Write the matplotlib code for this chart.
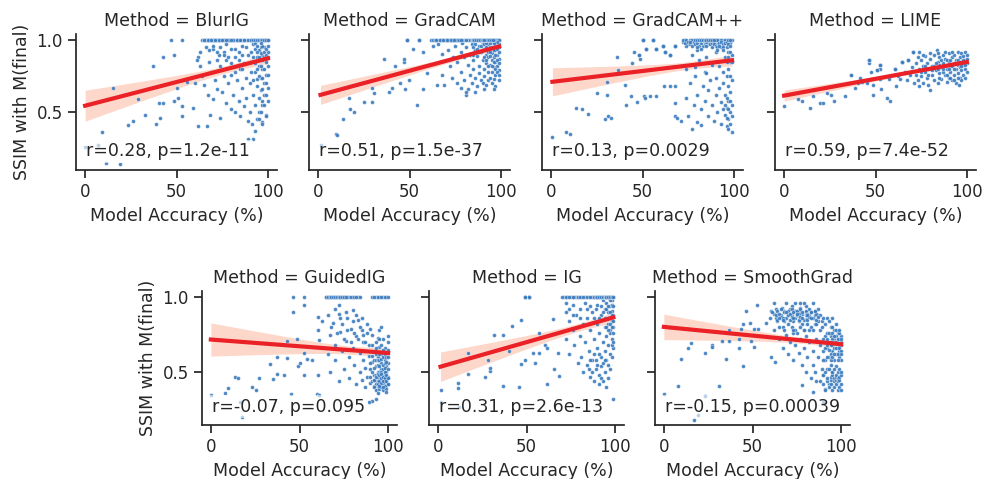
import numpy as np
import matplotlib.pyplot as plt

# (model accuracy %, SSIM), per method.
# Many points overlap (e.g. stacks at SSIM = 1.0), so some pairs repeat.
blurig_pts = [(0,0.26),(7,0.27),(9,0.36),(11.5,0.145),(15.5,0.67),(19,0.14),(23.5,0.41),(26,0.44),(29,0.59),(33,0.48),
    (37,0.82),(39,0.42),(41,0.46),(40.5,0.56),(42.7,0.56),(42.7,0.88),(46.8,1.0),(48.6,0.90),(48.6,0.58),(50,0.67),
    (51,0.60),(52.8,1.0),(52.9,0.54),(52.9,0.47),(55.6,0.71),(59,0.53),(61.5,0.40),(60,0.70),(62,0.88),(63,0.82),
    (64,0.75),(65,0.69),(66.7,0.40),(66,1.0),(67,1.0),(67,0.62),(68.5,0.48),(68,0.85),(69,0.78),(70,0.59),
    (70,1.0),(71,0.72),(72,0.66),(72,1.0),(73.7,0.46),(73,0.90),(74,1.0),(75,0.80),(75,0.64),(76,1.0),
    (77,0.56),(77,0.86),(78,1.0),(78,0.70),(79.6,0.52),(80,0.94),(80,1.0),(80,0.76),(81,0.62),(82,1.0),
    (82,0.88),(82,0.50),(83,0.72),(84,1.0),(84,0.92),(84,0.58),(85,0.47),(85,0.80),(86,1.0),(86,0.67),
    (86,0.96),(87,0.54),(87,0.84),(88,1.0),(88,0.74),(88,0.60),(89,0.90),(89,0.44),(90,0.70),(90,0.50),
    (91,1.0),(91,0.85),(91.5,0.42),(92,0.31),(92,0.62),(92,0.97),(93,1.0),(93,0.37),(93,0.78),(93,0.55),
    (94,0.88),(94,0.68),(94,0.45),(95,1.0),(95,0.93),(95,0.82),(95,0.60),(95,0.50),(96,1.0),(96,0.74),
    (96,0.65),(96,0.86),(97,1.0),(97,0.90),(97,0.80),(97,0.55),(97,0.43),(98,1.0),(98,0.95),(98,0.70),
    (98,0.62),(99,1.0),(99,0.85),(99,0.76),(99,0.48),(100,1.0),(100,0.92),(100,0.67),(100,0.58),(89,0.31),
    (93,0.98),(94,1.0),(90,1.0),(92,1.0),(87,1.0),(85,1.0),(83,1.0),(81,1.0),(79,1.0),(77,0.97),
    (96,0.95),(98,0.88),(100,0.82),(94,0.73),(97,0.66),
    (67,1.0),(68,1.0),(69,1.0),(71,1.0),(73,1.0),(75,1.0),(77,1.0),(79,1.0),(81,1.0),(83,1.0),
    (85,1.0),(87,1.0),(89,1.0),(91,1.0),(92,1.0),(93,1.0),(94,1.0),(95,1.0),(96,1.0),(97,1.0),
    (98,1.0),(99,1.0),(100,1.0),(91,0.92),(91,0.78),(92,0.88),(92,0.72),(93,0.94),(93,0.84),(94,0.96),
    (94,0.80),(95,0.88),(95,0.75),(96,0.91),(96,0.82),(97,0.96),(97,0.86),(97,0.74),(98,0.92),(98,0.80),
    (99,0.94),(99,0.90),(99,0.70),(100,0.96),(100,0.88),(100,0.76),(94,0.92),(96,0.98),(70,0.94),(72,0.86),
    (74,0.82),(76,0.92),(78,0.88),(80,0.84),(82,0.94),(84,0.86),(86,0.90),(88,0.95),(76,0.75),(82,0.78),
    (86,0.80),
    (64,1.0),(65,1.0),(66,1.0),(67,1.0),(68,1.0),(69,1.0),(70,1.0),(71,1.0),(72,1.0),(73,1.0),
    (74,1.0),(75,1.0),(76,1.0),(78,1.0),(80,1.0),(65,1.0),(67,1.0),(69,1.0),(71,1.0),(73,1.0),
    (75,1.0),(77,1.0),(66,0.95),(68,0.93),(70,0.96),(72,0.92),(74,0.95),(76,0.90),(63,0.92),(61,0.86),
    (95,0.45),(96,0.50),(97,0.42),(98,0.55),(99,0.47),(97,0.58),(99,0.62)]

gradcam_pts = [(1.3,0.27),(10,0.345),(10.5,0.34),(13.4,0.455),(17,0.60),(17.5,0.52),(19.7,0.50),(25,0.57),(29.5,0.57),(30.4,0.63),
    (29.5,0.67),(36,0.87),(39,0.64),(40.5,0.67),(41.8,0.82),(44.8,0.70),(47,0.845),(47,0.87),(47.3,0.66),(48.8,1.0),
    (49.7,0.725),(52,0.94),(54.3,0.55),(55.2,1.0),(57.6,0.915),(57.6,0.66),(59.5,0.775),(62.6,0.96),(64.8,0.69),(65.4,0.976),
    (68,0.905),(68,0.76),(69,0.685),(70,1.0),(71,0.93),(72,0.82),(73,1.0),(73,0.74),(74,0.88),(75,1.0),
    (75,0.96),(76,0.70),(76,0.85),(77,1.0),(78,0.92),(78,0.78),(79,0.98),(80,1.0),(80,0.88),(80,0.72),
    (81,0.62),(81,0.95),(82,1.0),(82,0.83),(82,0.66),(83,0.90),(83,0.76),(84,1.0),(84,0.97),(84,0.70),
    (85,0.86),(85,0.80),(86,1.0),(86,0.93),(86,0.74),(87,0.68),(87,0.89),(88,1.0),(88,0.96),(88,0.82),
    (88,0.77),(89,0.92),(89,0.72),(90,1.0),(90,0.86),(90,0.98),(90,0.70),(91,0.94),(91,0.80),(91,0.75),
    (92,1.0),(92,0.90),(92,0.84),(92,0.69),(93,0.97),(93,0.88),(93,0.78),(93,0.72),(94,1.0),(94,0.95),
    (94,0.83),(94,0.74),(95,0.99),(95,0.91),(95,0.86),(95,0.78),(95,0.70),(96,1.0),(96,0.96),(96,0.88),
    (96,0.81),(96,0.73),(97,1.0),(97,0.93),(97,0.85),(97,0.76),(97,0.68),(98,1.0),(98,0.97),(98,0.90),
    (98,0.82),(99,1.0),(99,0.95),(99,0.87),(99,0.79),(99,0.72),(96,0.66),(91,0.66),(86,0.64),(81,0.64),
    (78,0.67),(85,0.95),(87,1.0),(89,1.0),(91,1.0),(93,1.0),(95,1.0),(97,0.98),
    (71,1.0),(72,1.0),(74,1.0),(76,1.0),(78,1.0),(79,1.0),(81,1.0),(83,1.0),(85,1.0),(88,1.0),
    (90,1.0),(91,1.0),(93,1.0),(94,1.0),(95,1.0),(96,1.0),(97,1.0),(98,1.0),(99,1.0),(85,0.90),
    (86,0.97),(87,0.94),(88,0.92),(89,0.96),(90,0.93),(91,0.97),(91,0.88),(92,0.95),(92,0.86),(93,0.92),
    (93,0.82),(94,0.98),(94,0.89),(95,0.95),(95,0.82),(96,0.93),(96,0.85),(97,0.96),(97,0.90),(97,0.80),
    (98,0.94),(98,0.86),(98,0.78),(99,0.97),(99,0.92),(99,0.84),(99,0.76),(98,0.99),(96,0.98),(94,0.92),
    (92,0.98),
    (48.8,1.0),(48.8,1.0),(48.8,1.0),(55.2,1.0),(55.2,1.0),(55.2,1.0),
    (62,1.0),(63,1.0),(64,1.0),(65,1.0),(66,1.0),(67,1.0),(68,1.0),(69,1.0),(70,1.0),(71,1.0),
    (72,1.0),(73,1.0),(74,1.0),(75,1.0),(76,1.0),(77,1.0),(78,1.0),(64.5,1.0),(66.5,1.0),(68.5,1.0),
    (70.5,1.0),(72.5,1.0),(74.5,1.0),
    (84,1.0),(85,1.0),(86,1.0),(87,1.0),(88,1.0),(89,1.0),(90,1.0),(91,1.0),(92,1.0),(93,1.0),
    (94,1.0),(95,1.0),(96,1.0),(84.5,1.0),(85.5,1.0),(86.5,1.0),(87.5,1.0),(88.5,1.0),(89.5,1.0),(90.5,1.0),
    (91.5,1.0),(92.5,1.0),(93.5,1.0),(94.5,1.0),(95.5,1.0),(90,1.0),(91,1.0)]

gradcampp_pts = [(0.7,0.33),(8.1,0.36),(10.1,0.345),(13.6,0.53),(17.1,0.52),(20.3,0.49),(25,0.63),(29.5,0.45),(30.4,0.62),(30.8,0.71),
    (31.3,0.47),(32.5,0.46),(36.3,0.885),(36.8,0.79),(40.5,0.69),(40.9,0.55),(43.6,0.615),(44.2,0.84),(45.5,0.92),(47,0.57),
    (48.3,0.90),(48.8,0.87),(50.1,1.0),(50.6,0.61),(51.6,0.60),(52,0.94),(54.3,0.61),(55.6,1.0),(57.5,0.61),(57.5,0.94),
    (61,0.96),(61.5,0.68),(62.4,0.92),(64.8,0.68),(64.8,0.90),(67.6,0.47),(68,0.96),(68,0.68),(68,0.56),(69,0.46),
    (70.9,0.44),(72,0.99),(73,1.0),(74,0.60),(74,0.80),(75,0.47),(75,0.97),(76,1.0),(76,0.70),(77.3,0.385),
    (77,0.90),(78,0.55),(78,0.98),(79.6,0.43),(79,0.75),(80,1.0),(80,0.62),(80,0.93),(81,0.86),(82,0.41),
    (82,0.52),(82,1.0),(83,0.68),(83,0.96),(84,0.78),(84,0.58),(85,1.0),(85,0.88),(86,0.47),(86,0.65),
    (87,0.99),(87,0.72),(88,0.83),(88,0.55),(89,1.0),(89,0.44),(90,0.92),(90,0.62),(90,0.74),(91,0.98),
    (91,0.50),(92,1.0),(92,0.82),(92,0.67),(93,0.42),(93,0.95),(93,0.57),(94,1.0),(94,0.78),(94,0.70),
    (95,0.88),(95,0.48),(95,0.62),(96,1.0),(96,0.97),(96,0.40),(96,0.53),(96,0.75),(97,0.92),(97,0.68),
    (97,0.58),(97,0.45),(97,0.38),(97,1.0),(98,0.98),(98,0.85),(98,0.50),(98,0.64),(98,0.42),(99,1.0),
    (99,0.55),(99,0.47),(99,0.36),(99,0.72),(95,0.55),(96,0.46),(97,0.52),(98,0.58),(96,0.60),(94,0.52),
    (86,0.97),(84,1.0),(78,1.0),(74,0.96),(88,1.0),(90,1.0),(79,0.81),(85,0.77),
    (72,1.0),(73,0.98),(74,1.0),(75,0.99),(76,0.97),(77,1.0),(77,0.96),(78,0.99),(79,1.0),(79,0.97),
    (80,0.98),(81,1.0),(81,0.96),(82,0.98),(83,1.0),(84,0.97),(84,0.99),(85,0.96),(86,1.0),(86,0.99),
    (87,0.97),(87,1.0),(88,0.98),(88,0.95),(89,0.99),(89,0.97),(90,1.0),(90,0.96),(91,1.0),(91,0.95),
    (92,0.98),(92,0.96),(93,1.0),(93,0.99),(94,0.97),(94,0.95),(95,1.0),(95,0.98),(96,0.99),(96,0.95),
    (97,1.0),(97,0.97),(98,1.0),(98,0.96),(80,0.95),(76,0.99),(82,0.94),(85,0.99),(91,0.93),(94,0.93),
    (97,0.80),(98,0.75),(96,0.85),(97,0.88),(98,0.92),(99,0.85),(99,0.90),
    (50.1,1.0),(50.1,1.0),(50.1,1.0),(50.1,1.0),(55.6,1.0),(55.6,1.0),(55.6,1.0),(55.6,1.0),
    (61,0.96),(61,0.96),(61,0.96),(61,0.96),(61,0.96),(62.4,0.92),(62.4,0.92),(62.4,0.92),(62.4,0.92),
    (64.8,0.90),(64.8,0.90),(64.8,0.90),(64.8,0.90),(68,0.96),(68,0.96),(68,0.96),(68,0.96),(68,0.96),(68,0.96),
    (57.5,0.94),(57.5,0.94),(57.5,0.94),(57.5,0.94),(52,0.94),(52,0.94),(52,0.94),(48.3,0.90),(48.3,0.90),
    (80,1.0),(81,1.0),(82,1.0),(83,1.0),(84,1.0),(85,1.0),(86,1.0),(87,1.0),(88,1.0),(89,1.0)]

lime_pts = [(0,0.545),(7.8,0.59),(9.6,0.575),(14,0.53),(15.8,0.61),(19.5,0.56),(21.5,0.56),(23.3,0.63),(25.8,0.62),(27.3,0.58),
    (33.3,0.615),(36.4,0.76),(38.7,0.67),(40.5,0.70),(41.3,0.74),(42.7,0.71),(45.1,0.70),(46.4,0.86),(46.4,0.84),(47.3,0.78),
    (48.5,0.69),(48.7,0.62),(50.9,0.79),(52.4,0.83),(52.6,0.80),(52.2,0.73),(53,0.66),(56.4,0.60),(58.2,0.58),(57.6,0.73),
    (60.4,0.80),(61,0.68),(62.2,0.75),(63.6,0.73),(64.5,0.85),(66,0.78),(67.3,0.72),(68,0.86),(69,0.76),(70.4,0.915),
    (70,0.81),(71,0.70),(72,0.84),(72,0.76),(73,0.88),(73,0.72),(74,0.80),(74,0.68),(75,0.86),(75,0.75),
    (76,0.82),(76,0.70),(77,0.89),(77,0.78),(78,0.74),(78,0.84),(79,0.80),(79,0.69),(80,0.65),(80,0.87),
    (81,0.76),(81,0.82),(82,0.90),(82,0.72),(83,0.79),(83.6,0.93),(84,0.85),(84,0.70),(85,0.77),(85,0.88),
    (86,0.81),(86,0.73),(87,0.90),(87,0.84),(88,0.76),(88,0.87),(89,0.80),(89,0.71),(90,0.91),(90,0.85),
    (90,0.74),(91,0.82),(91,0.78),(92,0.88),(92,0.72),(93,0.84),(93,0.90),(93,0.76),(94,0.80),(94,0.86),
    (94,0.70),(95,0.92),(95,0.83),(95.5,0.69),(95,0.77),(96,0.88),(96,0.81),(96,0.74),(97,0.91),(97,0.85),
    (97,0.79),(97,0.72),(98,0.89),(98,0.83),(98,0.76),(99,0.92),(99,0.86),(99,0.80),(99,0.74),(100,0.90),
    (100,0.84),(100,0.78),(92,0.92),(88,0.92),(84,0.91),(80,0.91),(76,0.90),(74,0.92),
    (80,0.80),(82,0.82),(84,0.80),(85,0.83),(86,0.86),(87,0.78),(88,0.82),(89,0.86),(90,0.80),(91,0.86),
    (92,0.82),(93,0.80),(94,0.84),(95,0.86),(96,0.85),(97,0.82),(98,0.86),(99,0.83),(100,0.87),(75,0.78),
    (77,0.82),(79,0.76),(81,0.79),(83,0.84),(85,0.74),(87,0.80),(89,0.76),(91,0.74),(93,0.72),(95,0.74),
    (46.4,0.86),(46.4,0.86),(52.4,0.83),(52.4,0.83),(50.9,0.79),(50.9,0.79),(64.5,0.85),(64.5,0.85),(64.5,0.85),
    (60.4,0.80),(60.4,0.80),(70.4,0.915),(70.4,0.915),(68,0.86),(68,0.86),(36.4,0.76)]

guidedig_pts = [(0,0.35),(7.9,0.36),(9.8,0.395),(13.6,0.47),(15.5,0.465),(17.7,0.20),(16.5,0.30),(23.4,0.40),(25.3,0.38),(27.4,0.46),
    (33.4,0.555),(35,0.455),(37.2,0.49),(37.2,0.60),(41,0.48),(42.8,0.595),(42.8,0.71),(45,0.355),(46.6,1.0),(46.6,0.90),
    (48.5,0.72),(49.4,0.545),(50.4,0.565),(52.3,0.63),(52.3,1.0),(52.6,0.95),(52.6,0.485),(54.2,0.59),(57,0.58),(60.2,0.485),
    (60,0.355),(60.4,0.87),(62.6,0.84),(60.4,0.78),(61,0.715),(65,1.0),(66,0.62),(67,0.75),(67,0.50),(68,1.0),
    (69,0.83),(70,0.68),(70,0.58),(71,1.0),(72,0.945),(72,0.89),(72,0.44),(73,0.77),(74,1.0),(74,0.64),
    (75,0.52),(76,0.71),(77,1.0),(77,0.86),(78,0.60),(78,0.46),(79,0.79),(80,1.0),(80,0.915),(80,0.66),
    (81,0.55),(82,0.74),(82,0.42),(83,1.0),(83,0.85),(84,0.63),(84,0.50),(85,0.78),(85,0.45),(86,0.58),
    (86,0.70),(87,0.40),(87,0.53),(88,0.82),(88,0.47),(89,0.61),(89,0.68),(90,0.43),(90,0.52),(91,1.0),
    (91,0.75),(91,0.57),(91,0.31),(92,0.41),(92,0.64),(92,0.48),(93,1.0),(93,0.70),(93,0.54),(93,0.44),
    (93,0.32),(94,0.60),(94,0.40),(94,0.50),(95,1.0),(95,0.78),(95,0.67),(95,0.46),(95,0.42),(96,0.56),
    (96,0.62),(96,0.44),(96,0.52),(97,1.0),(97,0.72),(97,0.48),(97,0.41),(98,0.58),(98,0.66),(98,0.45),
    (98,0.50),(99,1.0),(99,0.54),(99,0.43),(99,0.62),(100,0.74),(100,0.47),(100,0.56),(96,0.80),(94,0.73),
    (90,0.79),(89,0.30),(61,0.35),
    (66,1.0),(67,1.0),(69,1.0),(70,1.0),(72,1.0),(73,1.0),(75,1.0),(76,1.0),(78,1.0),(79,1.0),
    (81,1.0),(82,1.0),(84,1.0),(92,1.0),(94,1.0),(96,1.0),(98,1.0),(100,1.0),(66,0.88),(68,0.80),
    (70,0.92),(71,0.76),(73,0.86),(74,0.82),(75,0.72),(76,0.90),(77,0.78),(79,0.70),(80,0.84),(81,0.76),
    (82,0.88),(83,0.72),(84,0.80),(85,0.86),(86,0.75),(87,0.70),(88,0.76),(90,0.47),(90,0.56),(91,0.44),
    (91,0.50),(91,0.61),(92,0.45),(92,0.53),(92,0.58),(93,0.42),(93,0.48),(93,0.58),(93,0.62),(94,0.44),
    (94,0.47),(94,0.55),(94,0.58),(95,0.40),(95,0.50),(95,0.54),(95,0.58),(95,0.62),(96,0.41),(96,0.47),
    (96,0.50),(96,0.59),(97,0.43),(97,0.45),(97,0.52),(97,0.55),(97,0.60),(98,0.40),(98,0.48),(98,0.53),
    (98,0.56),(98,0.62),(99,0.41),(99,0.46),(99,0.50),(99,0.57),(99,0.60),(100,0.42),(100,0.52),(100,0.60),
    (100,0.65),(100,0.70),(96,0.68),(97,0.65),(95,0.72),(93,0.66),(91,0.68),
    (65,1.0),(66,1.0),(67,1.0),(68,1.0),(69,1.0),(70,1.0),(71,1.0),(72,1.0),(73,1.0),(74,1.0),
    (75,1.0),(76,1.0),(92,0.40),(92,0.45),(93,0.38),(93,0.47),(94,0.42),(94,0.49),(95,0.39),(95,0.44),
    (95,0.48),(96,0.40),(96,0.43),(96,0.46),(96,0.49),(97,0.38),(97,0.44),(97,0.47),(98,0.41),(98,0.46),
    (98,0.50),(99,0.39),(99,0.44),(99,0.48),(100,0.42),(100,0.46),(94,0.36),(95,0.41),(97,0.40),(99,0.37)]

ig_pts = [(1.7,0.38),(1.5,0.30),(11.3,0.43),(11.3,0.395),(12,0.27),(17,0.625),(17,0.49),(26.5,0.47),(28.4,0.585),(29.6,0.51),
    (29.6,0.53),(31.5,0.745),(36.6,0.41),(36.6,0.745),(40,0.64),(41.8,0.805),(45.6,0.40),(46.8,0.555),(46.8,0.845),(49,1.0),
    (51.5,1.0),(49.4,0.58),(53.8,0.63),(55,0.56),(57,0.76),(57.2,0.63),(60.5,0.68),(61.8,0.66),(61.5,0.425),(64.7,0.855),
    (65.3,0.525),(67.6,0.625),(68.1,0.475),(71,1.0),(72,0.90),(72,0.72),(73,1.0),(74,0.84),(74,0.62),(75,1.0),
    (76,0.78),(76,0.95),(77,0.68),(78,1.0),(78,0.88),(79,0.56),(80,0.74),(80,0.92),(81,1.0),(81,0.60),
    (82,0.82),(82,0.50),(83,0.70),(83,0.96),(84,0.55),(84,0.86),(85,1.0),(85,0.64),(86,0.47),(86,0.78),
    (87,0.90),(87,0.58),(88,1.0),(88,0.72),(88,0.44),(89,0.84),(89,0.52),(90,1.0),(90,0.66),(90,0.95),
    (91,0.76),(91,0.48),(91,0.42),(92,1.0),(92,0.88),(92,0.60),(92,0.54),(93,0.98),(93,0.70),(93,0.44),
    (94,1.0),(94,0.92),(94,0.80),(94,0.64),(94,0.50),(95,1.0),(95,0.96),(95,0.86),(95,0.74),(95,0.58),
    (95,0.40),(96,1.0),(96,0.90),(96,0.82),(96,0.68),(96,0.55),(96,0.46),(97,1.0),(97,0.94),(97,0.87),
    (97,0.78),(97,0.62),(97,0.52),(98,0.98),(98,0.91),(98,0.84),(98,0.72),(98,0.60),(99,1.0),(99,0.88),
    (99,0.80),(99,0.66),(99,0.32),(93,1.0),(91,1.0),(89,1.0),(87,1.0),(83,1.0),(79,1.0),(77,1.0),
    (70,1.0),(72,1.0),(74,1.0),(76,1.0),(80,1.0),(82,1.0),(84,1.0),(86,1.0),(90,1.0),(92,1.0),
    (93,1.0),(94,1.0),(95,1.0),(95,1.0),(96,1.0),(96,1.0),(97,1.0),(97,1.0),(98,1.0),(98,1.0),
    (99,1.0),(99,1.0),(95,0.92),(96,0.94),(96,0.86),(97,0.98),(97,0.90),(97,0.82),(97,0.76),(98,0.95),
    (98,0.88),(98,0.80),(98,0.68),(99,0.94),(99,0.84),(99,0.76),(99,0.70),(96,0.78),(95,0.80),(94,0.86),
    (93,0.90),(92,0.94),(91,0.86),(90,0.82),(89,0.92),(88,0.86),(86,0.94),(84,0.92),(80,0.86),(76,0.88),
    (72,0.96),(74,0.92),(85,0.52),(86,0.58),(87,0.50),(88,0.62),(89,0.58),(90,0.55),(91,0.62),(93,0.56),
    (94,0.58),(92,0.46),
    (49,1.0),(49,1.0),(49,1.0),(49,1.0),(51.5,1.0),(51.5,1.0),(51.5,1.0),(51.5,1.0),
    (88,1.0),(89,1.0),(90,1.0),(91,1.0),(92,1.0),(93,1.0),(94,1.0),(95,1.0),(96,1.0),(97,1.0),
    (98,1.0),(99,1.0),(95,1.0),(96,1.0),(97,1.0),(98,1.0),(99,1.0)]

smoothgrad_pts = [(0,0.355),(7.8,0.41),(9.5,0.59),(13.4,0.66),(15.3,0.695),(17.2,0.185),(19.5,0.215),(23.3,0.34),(23.3,0.625),(27.1,0.68),
    (27.1,0.665),(31.1,0.41),(32.8,0.71),(35,0.59),(36.9,0.78),(36.9,0.71),(42.6,0.72),(42.6,0.66),(43.6,0.785),(44.7,0.545),
    (46.6,0.91),(44.5,0.82),(48.5,0.83),(48.9,0.705),(50.8,0.67),(51.1,0.79),(53.2,0.785),(52.3,0.95),(57.4,0.83),(60.2,0.60),
    (62.5,0.57),(60.2,0.91),(62,0.89),(63.5,0.86),(65,0.80),(65,0.72),(66.9,0.93),(67,0.66),(68,0.84),(69,0.75),
    (70,0.88),(70,0.62),(71,0.70),(72.5,0.94),(72,0.80),(73,0.58),(74,0.86),(74,0.68),(75,0.76),(76,0.90),
    (76,0.63),(77,0.72),(77.8,0.415),(78,0.82),(78,0.55),(79,0.66),(80,0.94),(80,0.74),(80,0.50),(81,0.86),
    (81,0.60),(82,0.70),(82,0.78),(83,0.46),(83,0.90),(84,0.37),(84,0.55),(84,0.64),(85,0.82),(85,0.50),
    (86,0.72),(86,0.44),(87,0.88),(87,0.60),(88,0.44),(88,0.68),(88,0.78),(89,0.52),(89,0.84),(90,0.64),
    (90,0.48),(90,0.30),(91,0.39),(91,0.74),(91,0.58),(92,0.86),(92,0.66),(92,0.52),(93,0.42),(93,0.70),
    (93,0.60),(94,0.80),(94,0.55),(94,0.74),(95,0.64),(95,0.50),(95,0.86),(95,0.68),(96,0.72),(96,0.58),
    (96,0.78),(97,0.62),(97,0.82),(97,0.54),(98,0.70),(98,0.66),(98,0.76),(99,0.60),(99,0.72),(99,0.64),
    (100,0.68),(100,0.74),(100,0.58),(96,0.46),(94,0.62),(92,0.76),
    (63,0.92),(64,0.84),(66,0.88),(67,0.80),(68,0.91),(69,0.86),(70,0.82),(71,0.92),(72,0.88),(73,0.84),
    (73,0.76),(74,0.91),(75,0.88),(76,0.84),(77,0.93),(77,0.80),(78,0.89),(79,0.85),(79,0.78),(80,0.90),
    (81,0.82),(82,0.88),(83,0.80),(84,0.86),(85,0.90),(86,0.82),(87,0.84),(88,0.88),(89,0.80),(90,0.86),
    (91,0.82),(93,0.84),(95,0.80),(97,0.78),(99,0.76),(90,0.72),(90,0.58),(91,0.66),(91,0.70),(92,0.60),
    (92,0.72),(93,0.65),(93,0.76),(94,0.68),(94,0.58),(95,0.72),(95,0.60),(95,0.76),(96,0.66),(96,0.70),
    (96,0.62),(97,0.70),(97,0.66),(97,0.74),(98,0.62),(98,0.72),(98,0.58),(99,0.68),(99,0.66),(99,0.78),
    (100,0.64),(100,0.70),(100,0.72),(100,0.62),(94,0.70),(92,0.68),(96,0.74),
    (60,0.86),(61,0.90),(62,0.78),(62,0.96),(63,0.88),(64,0.91),(64,0.85),(65,0.89),(66,0.92),(66,0.87),
    (67,0.86),(68,0.90),(68,0.78),(69,0.96),(70,0.88),(70,0.91),(71,0.85),(71,0.89),(72,0.92),(72,0.87),
    (73,0.86),(73,0.90),(74,0.78),(74,0.96),(75,0.88),(75,0.91),(76,0.85),(76,0.89),(77,0.92),(77,0.87),
    (78,0.86),(78,0.90),(79,0.78),(79,0.96),(80,0.88),(80,0.91),(81,0.85),(81,0.89),(82,0.92),(82,0.87),
    (83,0.86),(83,0.90),(84,0.78),(84,0.96),(85,0.88),(85,0.91),(86,0.85),(86,0.89),(87,0.92),(87,0.87),
    (65,0.86),(69,0.90),(73,0.78),(77,0.96),(81,0.88),(85,0.91),(67,0.85),(75,0.89),
    (90,0.42),(90,0.48),(91,0.38),(91,0.50),(92,0.44),(92,0.46),(93,0.40),(93,0.52),(94,0.45),(94,0.47),
    (94,0.42),(95,0.48),(95,0.38),(95,0.50),(96,0.44),(96,0.46),(96,0.40),(96,0.52),(97,0.45),(97,0.47),
    (97,0.42),(97,0.48),(98,0.38),(98,0.50),(98,0.44),(98,0.46),(99,0.40),(99,0.52),(99,0.45),(99,0.47),
    (100,0.42),(100,0.48),(100,0.38),(100,0.50)]

methods = ["BlurIG", "GradCAM", "GradCAM++", "LIME", "GuidedIG", "IG", "SmoothGrad"]
points = [blurig_pts, gradcam_pts, gradcampp_pts, lime_pts, guidedig_pts, ig_pts, smoothgrad_pts]
stats = ["r=0.28, p=1.2e-11", "r=0.51, p=1.5e-37", "r=0.13, p=0.0029", "r=0.59, p=7.4e-52",
         "r=-0.07, p=0.095", "r=0.31, p=2.6e-13", "r=-0.15, p=0.00039"]

W, H = 985, 479
fig = plt.figure(figsize=(W / 100, H / 100), dpi=100)
plt.rcParams["font.family"] = "DejaVu Sans"

# axes boxes in pixels: left, top, width, height
top_row = [(76, 34, 201, 136), (309, 34, 201, 136), (542, 34, 201, 136), (775, 34, 201, 136)]
bot_row = [(202, 291, 195, 134), (429, 291, 195, 134), (655, 291, 195, 134)]
boxes = top_row + bot_row

pt_color = "#3a7bbf"
line_color = "#ea2127"
band_color = "#fdd8ca"
txt_color = "#262626"

for i, (name, pts, st, box) in enumerate(zip(methods, points, stats, boxes)):
    l, t, w, h = box
    ax = fig.add_axes([l / W, 1 - (t + h) / H, w / W, h / H])
    x = np.array([p[0] for p in pts])
    y = np.array([p[1] for p in pts])
    ax.scatter(x, y, s=8, color=pt_color, edgecolor="white", linewidth=0.3, alpha=0.9, zorder=2)

    # linear fit with 95% confidence band
    b, a = np.polyfit(x, y, 1)
    xs = np.linspace(x.min(), x.max(), 100)
    yhat = a + b * xs
    resid = y - (a + b * x)
    n = len(x)
    s = np.sqrt(np.sum(resid ** 2) / (n - 2))
    se = s * np.sqrt(1 / n + (xs - x.mean()) ** 2 / np.sum((x - x.mean()) ** 2))
    ax.fill_between(xs, yhat - 1.96 * se, yhat + 1.96 * se, color=band_color, lw=0, zorder=1)
    ax.plot(xs, yhat, color=line_color, lw=3, zorder=3)

    ax.text(0.05, 0.1, st, transform=ax.transAxes, fontsize=12.5, color=txt_color, zorder=4,
            bbox=dict(facecolor="white", alpha=0.6, edgecolor="none", pad=2))

    ax.set_xlim(-5, 105)
    if i < 4:
        ax.set_ylim(0.097, 1.043)
    else:
        ax.set_ylim(0.15, 1.04)
    ax.set_xticks([0, 50, 100])
    ax.set_yticks([0.5, 1.0])
    ax.set_title(f"Method = {name}", fontsize=12.5, color=txt_color)
    ax.set_xlabel("Model Accuracy (%)", fontsize=12.5, color=txt_color)
    if i in (0, 4):
        ax.set_ylabel("SSIM with M(final)", fontsize=12.5, color=txt_color)
    else:
        ax.set_yticklabels([])
    for side in ["top", "right"]:
        ax.spines[side].set_visible(False)
    for side in ["left", "bottom"]:
        ax.spines[side].set_linewidth(1.25)
        ax.spines[side].set_color(txt_color)
    ax.tick_params(labelsize=12, width=1.25, length=6, colors=txt_color)

fig.savefig("out.png", dpi=100)
